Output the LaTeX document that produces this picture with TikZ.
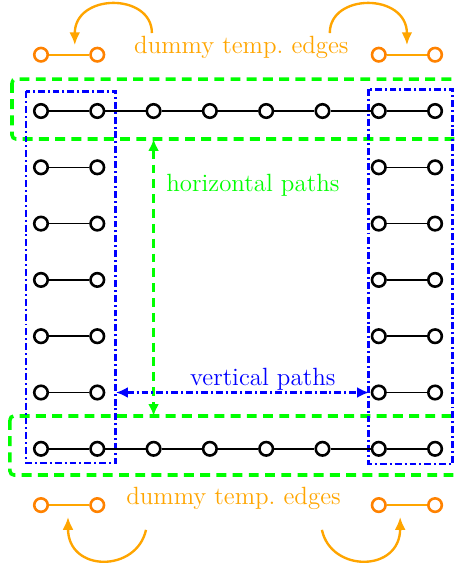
\documentclass[tikz,border=0pt]{standalone}
\usetikzlibrary{arrows.meta}
\definecolor{templine}{RGB}{255,165,0}
\definecolor{tempnode}{RGB}{255,130,0}
\tikzset{
  vtx/.style={circle,draw=black,fill=white,line width=1.3pt,minimum size=0.24cm,inner sep=0pt},
  tmpvtx/.style={circle,draw=tempnode,fill=white,line width=1.3pt,minimum size=0.24cm,inner sep=0pt},
  link/.style={draw=black,line width=0.8pt},
  tmplink/.style={draw=templine,line width=0.8pt},
  hbox/.style={draw=green,line width=1.8pt,dash pattern=on 5pt off 3.2pt,rounded corners=2pt},
  vbox/.style={draw=blue,line width=1.5pt,dash pattern=on 3.5pt off 1.5pt on 1pt off 1.5pt},
  harrow/.style={draw=green,line width=1.2pt,dash pattern=on 4.5pt off 3pt,{Latex[length=6pt,width=5.5pt]}-{Latex[length=6pt,width=5.5pt]}},
  varrow/.style={draw=blue,line width=1.2pt,dash pattern=on 3.5pt off 1.5pt on 1pt off 1.5pt,{Latex[length=6pt,width=5.5pt]}-{Latex[length=6pt,width=5.5pt]}},
  tmparc/.style={draw=templine,line width=1.2pt,-{Latex[length=6.5pt,width=5.5pt]}},
  lbl/.style={font=\fontsize{12.6}{14}\selectfont,inner sep=0pt}
}
\begin{document}
\begin{tikzpicture}
\useasboundingbox (-0.728,1.972) rectangle (7.353,-8.064);

% grouping frames
\draw[hbox] (-0.515,0.568) rectangle (7.45,-0.497);
\draw[hbox] (-0.551,-5.417) rectangle (7.45,-6.465);
\draw[vbox] (-0.266,0.355) rectangle (1.332,-6.252);
\draw[vbox] (5.826,0.39) rectangle (7.318,-6.27);

% top and bottom chains
\foreach \j in {0,6} {
  \foreach \i in {0,...,7} {
    \node[vtx] (n-\i-\j) at (\i,-\j) {};
  }
  \foreach \i [evaluate=\i as \k using int(\i+1)] in {0,...,6} {
    \draw[link] (n-\i-\j) -- (n-\k-\j);
  }
}
% side pairs
\foreach \j in {1,...,5} {
  \node[vtx] (n-0-\j) at (0,-\j) {};
  \node[vtx] (n-1-\j) at (1,-\j) {};
  \node[vtx] (n-6-\j) at (6,-\j) {};
  \node[vtx] (n-7-\j) at (7,-\j) {};
  \draw[link] (n-0-\j) -- (n-1-\j);
  \draw[link] (n-6-\j) -- (n-7-\j);
}

% dummy temporary edges
\node[tmpvtx] (ta) at (0,1) {};
\node[tmpvtx] (tb) at (1,1) {};
\node[tmpvtx] (tc) at (6,1) {};
\node[tmpvtx] (td) at (7,1) {};
\node[tmpvtx] (ba) at (0,-7) {};
\node[tmpvtx] (bb) at (1,-7) {};
\node[tmpvtx] (bc) at (6,-7) {};
\node[tmpvtx] (bd) at (7,-7) {};
\draw[tmplink] (ta) -- (tb);
\draw[tmplink] (tc) -- (td);
\draw[tmplink] (ba) -- (bb);
\draw[tmplink] (bc) -- (bd);

\node[lbl,text=templine] (ttop) at (3.56,1.137) {dummy temp.\ edges};
\node[lbl,text=templine] (tbot) at (3.42,-6.874) {dummy temp.\ edges};

\coordinate (a1s) at (1.97,1.385);
\coordinate (a1e) at (0.60,1.17);
\coordinate (a2s) at (5.13,1.385);
\coordinate (a2e) at (6.50,1.17);
\coordinate (a3s) at (1.865,-7.44);
\coordinate (a3e) at (0.48,-7.21);
\coordinate (a4s) at (4.99,-7.44);
\coordinate (a4e) at (6.38,-7.21);
\draw[tmparc] (a1s) .. controls (1.97,2.1) and (0.60,2.1) .. (a1e);
\draw[tmparc] (a2s) .. controls (5.13,2.1) and (6.50,2.1) .. (a2e);
\draw[tmparc] (a3s) .. controls (1.70,-8.2) and (0.48,-8.2) .. (a3e);
\draw[tmparc] (a4s) .. controls (5.15,-8.2) and (6.38,-8.2) .. (a4e);

% path annotations
\coordinate (hp1) at (2,-0.497);
\coordinate (hp2) at (2,-5.417);
\draw[harrow] (hp1) -- (hp2);
\node[lbl,text=green,anchor=west] (hl) at (2.22,-1.314) {horizontal paths};

\coordinate (vp1) at (1.332,-5);
\coordinate (vp2) at (5.826,-5);
\draw[varrow] (vp1) -- (vp2);
\node[lbl,text=blue] (vl) at (3.94,-4.76) {vertical paths};
\end{tikzpicture}
\end{document}
